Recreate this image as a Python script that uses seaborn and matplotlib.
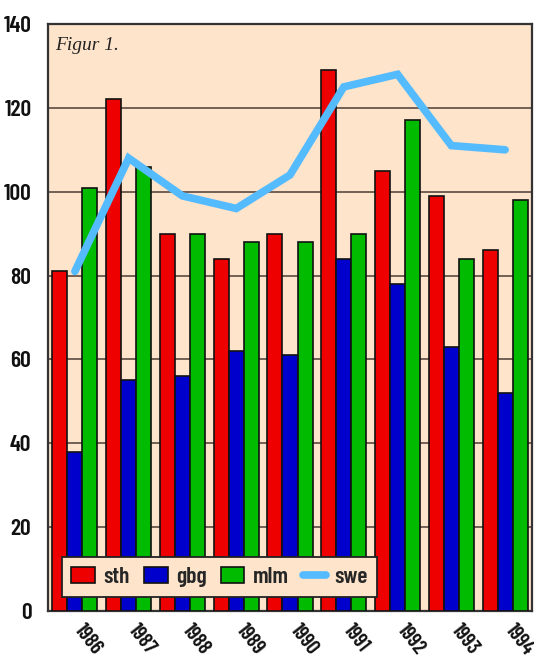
import matplotlib
matplotlib.use("Agg")
import matplotlib.pyplot as plt
import matplotlib.transforms as mtrans
import seaborn as sns
import pandas as pd
import numpy as np
from matplotlib import font_manager

years = ["1986", "1987", "1988", "1989", "1990", "1991", "1992", "1993", "1994"]
sth = [81, 122, 90, 84, 90, 129, 105, 99, 86]
gbg = [38, 55, 56, 62, 61, 84, 78, 63, 52]
mlm = [101, 106, 90, 88, 88, 90, 117, 84, 98]
swe = [81, 108, 99, 96, 104, 125, 128, 111, 110]
series = ["sth", "gbg", "mlm"]
yticks = [0, 20, 40, 60, 80, 100, 120, 140]

sns.set_theme(style="white")
names = {f.name for f in font_manager.fontManager.ttflist}
cond = next((n for n in ["Barlow Condensed", "Roboto Condensed", "Archivo Narrow",
                         "Asap Condensed"] if n in names), "DejaVu Sans")
plt.rcParams["font.family"] = [cond, "DejaVu Sans"]

df = pd.DataFrame({
    "year": years * 3,
    "value": sth + gbg + mlm,
    "series": [s for s in series for _ in years],
})

fig = plt.figure(figsize=(5.34, 6.57), dpi=100)
ax = fig.add_axes([48 / 534, 1 - 611 / 657, 484 / 534, 587 / 657])
ax.set_facecolor("#FDE4CA")

palette = {"sth": "#EE0000", "gbg": "#0000CC", "mlm": "#00BB00"}
sns.barplot(data=df, x="year", y="value", hue="series", hue_order=series,
            order=years, palette=palette, width=0.84, edgecolor="#111111",
            linewidth=1.2, saturation=1, gap=0, ax=ax, zorder=3)

ax.plot(np.arange(len(years)), swe, color="#55BBFF", lw=5.5,
        solid_capstyle="round", solid_joinstyle="miter", zorder=4, label="swe")

ax.set_ylim(0, 140)
ax.set_xlim(-0.5, 8.5)
ax.set_yticks(yticks)
ax.set_yticklabels([str(t) for t in yticks], fontsize=17, fontweight="semibold",
                   color="#111111")
ax.set_xticks(range(len(years)))
ax.set_xticklabels(years, rotation=-52, ha="left", va="top", fontsize=15,
                   fontweight="semibold", color="#111111", rotation_mode="anchor")
ax.tick_params(axis="y", length=0, pad=12)
ax.tick_params(axis="x", length=0, pad=7)
shift = mtrans.ScaledTranslation(8 / 72, 0, fig.dpi_scale_trans)
for lbl in ax.get_xticklabels():
    lbl.set_transform(lbl.get_transform() + shift)
ax.set_xlabel("")
ax.set_ylabel("")
ax.yaxis.grid(True, color="#5a4a40", lw=1.2, zorder=0)
ax.set_axisbelow(True)
for sp in ax.spines.values():
    sp.set_color("#333333")
    sp.set_linewidth(1.6)
    sp.set_visible(True)

ax.text(0.015, 0.978, "Figur 1.", transform=ax.transAxes, fontsize=14,
        fontstyle="italic", family=["Liberation Serif", "DejaVu Serif"],
        va="top", ha="left", color="#222222")

handles, labels = ax.get_legend_handles_labels()
leg = ax.legend(handles, labels, loc="lower left", bbox_to_anchor=(0.029, 0.024),
                ncol=4, frameon=True, fancybox=False, borderaxespad=0,
                prop={"family": [cond, "DejaVu Sans"], "weight": "semibold", "size": 17},
                handlelength=1.0, handleheight=0.7, columnspacing=0.6,
                handletextpad=0.35, borderpad=0.4)
leg.get_frame().set_facecolor("#FDE4CA")
leg.get_frame().set_edgecolor("#222222")
leg.get_frame().set_alpha(1)
leg.get_frame().set_linewidth(1.3)
leg.set_zorder(10)

fig.savefig("out.png", dpi=100, facecolor="white")
